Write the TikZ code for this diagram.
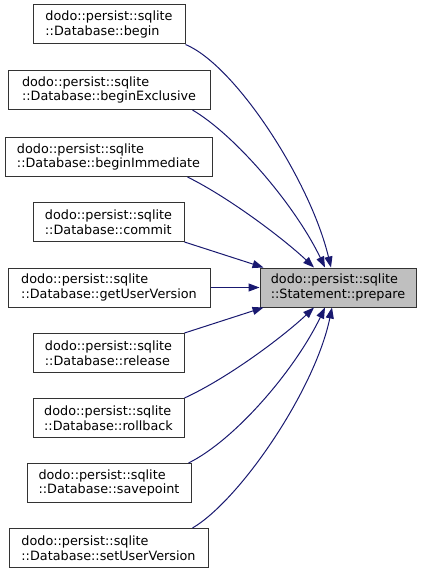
\documentclass[tikz,border=0pt]{standalone}
\usepackage{fontspec}
\setmainfont{DejaVu Sans}
\usetikzlibrary{arrows.meta}
\definecolor{edgeblue}{HTML}{191970}
\definecolor{rootfill}{HTML}{BFBFBF}
\definecolor{boxline}{HTML}{333333}
\begin{document}
\begin{tikzpicture}[x=1pt,y=-1pt,
  fn/.style={draw=boxline, line width=1pt, fill=white, align=left, inner sep=0pt,
    minimum height=39pt, font=\fontsize{12.8}{14.5}\selectfont},
  root/.style={fn, fill=rootfill},
  edge/.style={draw=edgeblue, line width=1pt, -{Triangle[length=11pt,width=8pt]}}]
\useasboundingbox (0,0) rectangle (421,575);
\node[fn, minimum width=152pt] (begin) at (109,24.5) {dodo::persist::sqlite\\::Database::begin};
\node[fn, minimum width=202pt] (bexcl) at (109,90) {dodo::persist::sqlite\\::Database::beginExclusive};
\node[fn, minimum width=207pt] (bimm) at (108.5,157) {dodo::persist::sqlite\\::Database::beginImmediate};
\node[fn, minimum width=151pt] (commit) at (108.5,222) {dodo::persist::sqlite\\::Database::commit};
\node[fn, minimum width=202pt] (getuv) at (109,287.5) {dodo::persist::sqlite\\::Database::getUserVersion};
\node[fn, minimum width=151pt] (release) at (108.5,353) {dodo::persist::sqlite\\::Database::release};
\node[fn, minimum width=151pt] (rollback) at (108.5,418) {dodo::persist::sqlite\\::Database::rollback};
\node[fn, minimum width=164pt] (savepoint) at (109,483) {dodo::persist::sqlite\\::Database::savepoint};
\node[fn, minimum width=199pt] (setuv) at (108.5,548) {dodo::persist::sqlite\\::Database::setUserVersion};
\node[root, minimum width=156pt] (prepare) at (338,287.5) {dodo::persist::sqlite\\::Statement::prepare};

\draw[edge] (begin.south east) .. controls (235,65) and (310,180) .. ([xshift=-7pt]prepare.north);
\draw[edge] ([xshift=-18pt]bexcl.south east) .. controls (235,135) and (295,205) .. ([xshift=-13pt]prepare.north);
\draw[edge] ([xshift=-25pt]bimm.south east) .. controls (230,198) and (285,240) .. ([xshift=-24pt]prepare.north);
\draw[edge] (commit.south east) -- ([xshift=4pt]prepare.north west);
\draw[edge] (getuv.east) -- (prepare.west);
\draw[edge] (release.north east) -- ([xshift=4pt]prepare.south west);
\draw[edge] (rollback.north east) .. controls (230,377) and (285,335) .. ([xshift=-24pt]prepare.south);
\draw[edge] ([xshift=-3pt]savepoint.north east) .. controls (235,440) and (295,370) .. ([xshift=-13pt]prepare.south);
\draw[edge] ([xshift=-16pt]setuv.north east) .. controls (240,500) and (315,390) .. ([xshift=-6pt]prepare.south);
\end{tikzpicture}
\end{document}
